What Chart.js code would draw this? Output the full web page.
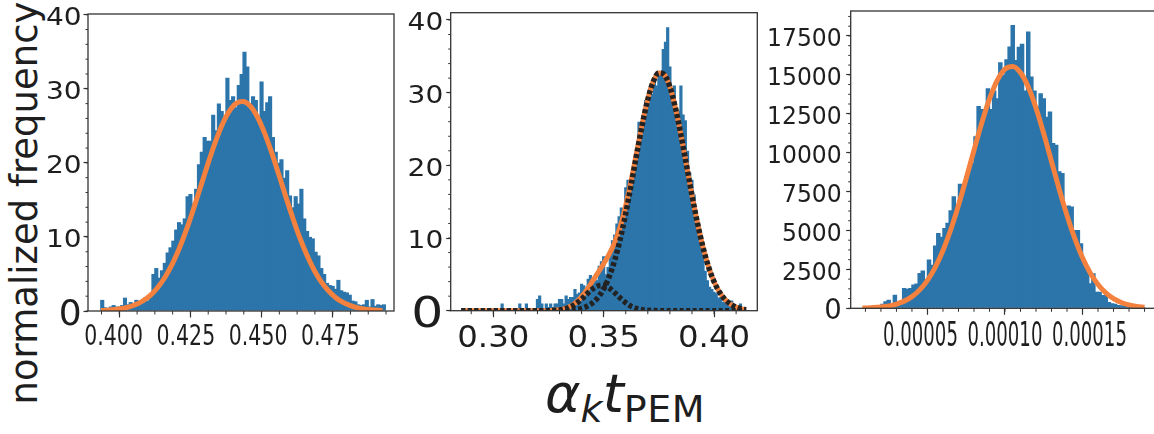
<!DOCTYPE html>
<html>
<head>
<meta charset="utf-8">
<script src="https://cdn.jsdelivr.net/npm/chart.js@4.4.1/dist/chart.umd.min.js"></script>
<style>
  html, body { margin: 0; padding: 0; background: #fff; }
  body { position: relative; width: 1154px; height: 434px; overflow: hidden; font-family: "DejaVu Sans", sans-serif; color: #1e1e1e; }
  canvas { position: absolute; top: 0; }
  #ylabel { position: absolute; left: 24px; top: 203px; font-size: 37px; line-height: 37px; white-space: nowrap;
            transform: translate(-50%, -50%) rotate(-90deg); }
  #xlabel { position: absolute; left: 545px; top: 367px; font-size: 54px; line-height: 54px; white-space: nowrap; }
  #xlabel .sub { font-size: 38px; line-height: 38px; position: relative; top: 10px; }
  #xlabel .pem { letter-spacing: 0.5px; }
</style>
</head>
<body>
<div id="ylabel">normalized frequency</div>
<div id="xlabel"><i>α</i><span class="sub"><i>k</i></span><i>t</i><span class="sub pem">PEM</span></div>
<canvas id="panel1" width="356" height="434" style="left:44px"></canvas>
<canvas id="panel2" width="360" height="434" style="left:400px"></canvas>
<canvas id="panel3" width="400" height="434" style="left:760px"></canvas>
<script>
// ---- panel 1 : single gaussian ----
const p1BinStart = 0.394;
const p1BinWidth = 0.001;
const p1Counts = [
  1.5, 0.5, 0.3, 0.6, 0.8, 0.6, 0.6, 0.8, 1.8, 0.9,
  1.2, 0.9, 1.5, 1.0, 1.2, 1.8, 1.4, 2.2, 5.0, 5.8,
  4.5, 5.5, 6.5, 7.9, 8.6, 9.5, 11.0, 12.0, 11.7, 12.5,
  15.5, 15.8, 14.5, 16.5, 19.8, 21.5, 23.5, 23.0, 23.0, 26.5,
  24.4, 28.0, 27.0, 26.2, 31.5, 28.5, 29.0, 27.5, 30.5, 32.0,
  35.0, 33.0, 28.0, 29.0, 28.5, 26.0, 31.0, 27.0, 28.2, 29.0,
  23.5, 21.5, 20.0, 20.5, 18.0, 19.0, 15.6, 14.0, 15.5, 14.5,
  16.5, 12.5, 10.8, 10.0, 9.8, 8.0, 7.5, 5.8, 5.0, 3.8,
  3.5, 3.4, 3.0, 4.2, 2.8, 2.6, 2.5, 2.2, 1.4, 1.3,
  0.9, 0.8, 0.9, 1.5, 0.6, 1.6, 0.7, 0.9, 0.8, 0.9
];
const p1FitX = [
  0.3935, 0.396, 0.3985, 0.401, 0.4035, 0.406, 0.4085, 0.411, 0.4135, 0.416,
  0.4185, 0.421, 0.4235, 0.426, 0.4285, 0.431, 0.4335, 0.436, 0.4385, 0.441,
  0.4435, 0.446, 0.4485, 0.451, 0.4535, 0.456, 0.4585, 0.461, 0.4635, 0.466,
  0.4685, 0.471, 0.4735, 0.476, 0.4785, 0.481, 0.4835, 0.486, 0.4885, 0.491, 0.4925
];
const p1FitY = [
  0.06, 0.11, 0.19, 0.33, 0.56, 0.90, 1.42, 2.15, 3.17, 4.52,
  6.25, 8.38, 10.88, 13.68, 16.68, 19.70, 22.55, 25.02, 26.89, 28.02,
  28.28, 27.67, 26.23, 24.09, 21.45, 18.50, 15.47, 12.53, 9.83, 7.48,
  5.51, 3.94, 2.73, 1.83, 1.19, 0.75, 0.46, 0.27, 0.16, 0.09, 0.06
];
const p1XTicks = [0.400, 0.425, 0.450, 0.475];
const p1YTicks = [0, 10, 20, 30, 40];

// ---- panel 2 : two-component mixture ----
const p2BinStart = 0.286;
const p2BinWidth = 0.001;
const p2Counts = [
  0, 0, 0, 0, 0, 0, 0, 0, 0, 0, 0, 0, 0, 0, 0, 0, 0, 0,
  1.0, 0, 0, 0, 0, 0, 0, 0, 1.0, 0, 0, 1.0, 0, 0, 0, 0,
  1.6, 2.1, 1.0, 0, 1.0, 0.5, 1.0, 0.5, 1.0, 1.0,
  1.6, 1.6, 1.0, 2.1, 1.6, 1.9, 1.9, 3.0, 2.3, 2.5,
  3.7, 3.5, 3.0, 4.4, 4.9, 4.4, 4.6, 4.2, 6.2, 6.8,
  7.5, 5.0, 6.0, 7.8, 9.7, 10.5, 12.0, 13.0, 14.2, 14.0,
  17.0, 18.0, 17.5, 19.0, 21.0, 22.0, 26.0, 25.2, 27.0, 29.0,
  28.0, 30.7, 29.8, 32.1, 31.0, 32.6, 33.0, 36.0, 37.0, 39.0,
  33.6, 30.7, 31.0, 28.0, 27.5, 31.0, 27.0, 26.2, 22.0, 19.0,
  18.0, 16.0, 13.3, 11.0, 9.1, 7.8, 5.5, 4.2, 3.3, 3.0,
  2.6, 2.4, 1.8, 1.8, 1.2, 1.6, 1.1, 0.8, 1.4, 0.8,
  0.4, 0.3, 1.0, 0.3, 0.2
];
const p2FitX = [
  0.2855, 0.295, 0.305, 0.315, 0.32, 0.325, 0.33, 0.3325, 0.335, 0.3375,
  0.34, 0.3425, 0.345, 0.3475, 0.35, 0.3525, 0.355, 0.3575, 0.36, 0.3625,
  0.365, 0.3675, 0.37, 0.3725, 0.375, 0.3775, 0.38, 0.3825, 0.385, 0.3875,
  0.39, 0.3925, 0.395, 0.3975, 0.40, 0.4025, 0.405, 0.4075, 0.41, 0.4125, 0.4145
];
const p2MixY = [
  0, 0, 0, 0, 0, 0.01, 0.13, 0.29, 0.61, 1.15,
  1.93, 2.94, 4.09, 5.27, 6.47, 7.78, 9.40, 11.59, 14.48, 17.98,
  21.87, 25.75, 29.11, 31.56, 32.72, 32.46, 30.79, 27.91, 24.20, 20.05,
  15.90, 12.05, 8.73, 6.05, 4.00, 2.54, 1.54, 0.89, 0.49, 0.26, 0.15
];
const p2MainY = [
  0, 0, 0, 0, 0, 0, 0.02, 0.04, 0.08, 0.17,
  0.33, 0.61, 1.09, 1.85, 3.00, 4.67, 6.93, 9.85, 13.39, 17.38,
  21.57, 25.62, 29.06, 31.54, 32.72, 32.46, 30.79, 27.91, 24.20, 20.05,
  15.90, 12.05, 8.73, 6.05, 4.00, 2.54, 1.54, 0.89, 0.49, 0.26, 0.15
];
const p2SideY = [
  0, 0, 0, 0, 0, 0.01, 0.11, 0.25, 0.53, 0.98,
  1.60, 2.33, 3.00, 3.42, 3.47, 3.11, 2.47, 1.74, 1.09, 0.60,
  0.30, 0.13, 0.05, 0.02, 0, 0, 0, 0, 0, 0,
  0, 0, 0, 0, 0, 0, 0, 0, 0, 0, 0
];
const p2XTicks = [0.30, 0.35, 0.40];
const p2YTicks = [0, 10, 20, 30, 40];

// ---- panel 3 : single gaussian, small values ----
const p3BinStart = 0.000009;
const p3BinWidth = 0.000002;
const p3Counts = [
  30, 40, 60, 80, 100, 200, 300, 450, 557, 343,
  878, 450, 500, 1307, 1250, 1300, 1521, 1600, 2271, 2421,
  1843, 3128, 2800, 4028, 4842, 4600, 5163, 5500, 6300, 7199,
  5913, 8000, 7413, 8484, 8900, 9341, 11055, 13000, 12800, 12500,
  14139, 12800, 14000, 13500, 15800, 15000, 16000, 16815, 18208, 15957,
  16800, 17000, 14000, 17780, 14889, 14000, 12962, 13818, 13500, 12300,
  12641, 10626, 10500, 8804, 8698, 6534, 6600, 6534, 5035, 5035,
  4177, 2892, 2464, 1607, 2250, 1071, 1071, 857, 857, 400,
  321, 300, 214, 200, 150, 150, 150, 120, 100, 100, 80
];
const p3FitX = [
  0.8e-5, 1.0e-5, 1.5e-5, 2.0e-5, 2.5e-5, 3.0e-5, 3.5e-5, 4.0e-5, 4.5e-5, 5.0e-5,
  5.5e-5, 6.0e-5, 6.5e-5, 7.0e-5, 7.5e-5, 8.0e-5, 8.5e-5, 9.0e-5, 9.5e-5, 10.0e-5,
  10.5e-5, 11.0e-5, 11.5e-5, 12.0e-5, 12.5e-5, 13.0e-5, 13.5e-5, 14.0e-5, 14.5e-5, 15.0e-5,
  15.5e-5, 16.0e-5, 16.5e-5, 17.0e-5, 17.5e-5, 18.0e-5, 18.5e-5, 19.0e-5
];
const p3FitY = [
  17, 23, 44, 84, 154, 271, 461, 751, 1185, 1799,
  2633, 3715, 5049, 6614, 8349, 10156, 11906, 13452, 14647, 15368,
  15539, 15141, 14219, 12872, 11224, 9431, 7640, 5960, 4486, 3250,
  2270, 1528, 992, 620, 373, 217, 121, 65
];
const p3XTicks = [0.00005, 0.00010, 0.00015];
const p3YTicks = [0, 2500, 5000, 7500, 10000, 12500, 15000, 17500];

const BLUE = "#2c75aa";
const ORANGE = "#f5813e";
const DOTS = "#232323";
const INK = "#1e1e1e";
const H = 434;

function histPoints(start, width, counts) {
  return counts.map((c, i) => ({ x: start + i * width, y: c }));
}

function curvePoints(xs, ys) {
  return xs.map((x, i) => ({ x: x, y: ys[i] }));
}

function barSet(points) {
  return {
    type: "bar",
    data: points,
    backgroundColor: BLUE,
    borderWidth: 0,
    barPercentage: 1.45,
    categoryPercentage: 1,
    order: 3
  };
}

function curveSet(points, color, dotted) {
  return {
    type: "line",
    data: points,
    borderColor: color,
    borderWidth: dotted ? 5.5 : 5,
    borderDash: dotted ? [4, 2.5] : [],
    pointRadius: 0,
    fill: false,
    cubicInterpolationMode: "monotone",
    clip: 0,
    order: dotted ? 1 : 2
  };
}

// frame, minor ticks and squeezed tick labels
const axisText = {
  id: "axisText",
  afterDraw(chart, args, o) {
    const { ctx, chartArea: a } = chart;
    const xs = chart.scales.x;
    const ys = chart.scales.y;
    ctx.save();
    ctx.strokeStyle = "#333";
    ctx.lineWidth = 1.3;
    ctx.strokeRect(a.left, a.top, a.right - a.left, a.bottom - a.top);

    ctx.lineWidth = 1;
    ctx.beginPath();
    for (let k = Math.ceil(xs.min / o.xMinor - 1e-6); k * o.xMinor <= xs.max; k++) {
      const px = xs.getPixelForValue(k * o.xMinor);
      ctx.moveTo(px, a.bottom);
      ctx.lineTo(px, a.bottom + 3.5);
    }
    for (let k = 0; k * o.yMinor <= ys.max; k++) {
      const py = ys.getPixelForValue(k * o.yMinor);
      ctx.moveTo(a.left, py);
      ctx.lineTo(a.left - 2.5, py);
    }
    ctx.stroke();

    ctx.fillStyle = INK;
    ctx.textBaseline = "alphabetic";
    ctx.textAlign = "center";
    xs.ticks.forEach(t => {
      const px = xs.getPixelForValue(t.value);
      ctx.save();
      ctx.translate(px + o.xShift + (px - o.xPivot) * o.xSpread, o.xBase);
      ctx.scale(o.xScale, 1);
      ctx.font = o.xSize + 'px "DejaVu Sans"';
      ctx.fillText(t.value.toFixed(o.xDec), 0, 0);
      ctx.restore();
    });

    ctx.textAlign = "right";
    ys.ticks.forEach(t => {
      const zero = t.value === 0;
      const size = zero ? o.zeroSize : o.ySize;
      ctx.save();
      ctx.translate(a.left - o.yGap, ys.getPixelForValue(t.value) + size * 0.364 + 1);
      ctx.scale(zero ? o.zeroScale : o.yScale, 1);
      ctx.font = size + 'px "DejaVu Sans"';
      ctx.fillText(String(t.value), 0, 0);
      ctx.restore();
    });
    ctx.restore();
  }
};

function makePanel(p) {
  return new Chart(document.getElementById(p.id), {
    type: "bar",
    data: { datasets: p.datasets },
    options: {
      responsive: false,
      animation: false,
      events: [],
      layout: { padding: { top: p.top, right: p.right, left: 0, bottom: 0 } },
      plugins: {
        legend: { display: false },
        tooltip: { enabled: false },
        axisText: p.text
      },
      scales: {
        x: {
          type: "linear",
          min: p.xMin,
          max: p.xMax,
          offset: false,
          grid: { drawOnChartArea: false, offset: false, tickLength: 6.5, tickColor: "#333", tickWidth: 1.2 },
          border: { display: false },
          ticks: { display: false },
          afterBuildTicks: s => { s.ticks = p.xTicks.map(v => ({ value: v })); },
          afterFit: s => { s.height = H - p.bottom; }
        },
        y: {
          type: "linear",
          min: 0,
          max: p.yMax,
          grid: { drawOnChartArea: false, tickLength: 4.5, tickColor: "#333", tickWidth: 1.2 },
          border: { display: false },
          ticks: { display: false },
          afterBuildTicks: s => { s.ticks = p.yTicks.map(v => ({ value: v })); },
          afterFit: s => { s.width = p.left; }
        }
      }
    },
    plugins: [axisText]
  });
}

makePanel({
  id: "panel1", left: 44, right: 6, top: 14, bottom: 311,
  xMin: 0.3890, xMax: 0.49655, yMax: 40.1, xTicks: p1XTicks, yTicks: p1YTicks,
  text: { xMinor: 0.00625, yMinor: 2, xDec: 3, xSize: 28.5, xScale: 0.72, xShift: -4, xPivot: 182, xSpread: 0.016, xBase: 345,
          ySize: 25.5, yScale: 1.1, yGap: 6.3, zeroSize: 36, zeroScale: 1 },
  datasets: [
    barSet(histPoints(p1BinStart, p1BinWidth, p1Counts)),
    curveSet(curvePoints(p1FitX, p1FitY), ORANGE, false)
  ]
});

makePanel({
  id: "panel2", left: 50.7, right: 2.7, top: 12.7, bottom: 310.7,
  xMin: 0.2807, xMax: 0.4196, yMax: 41, xTicks: p2XTicks, yTicks: p2YTicks,
  text: { xMinor: 0.01, yMinor: 2, xDec: 2, xSize: 30, xScale: 1.08, xShift: 0, xPivot: 0, xSpread: 0, xBase: 346.5,
          ySize: 25.5, yScale: 1.1, yGap: 7.4, zeroSize: 42, zeroScale: 1.2 },
  datasets: [
    barSet(histPoints(p2BinStart, p2BinWidth, p2Counts)),
    curveSet(curvePoints(p2FitX, p2MixY), ORANGE, false),
    curveSet(curvePoints(p2FitX, p2MainY), DOTS, true),
    curveSet(curvePoints(p2FitX, p2SideY), DOTS, true)
  ]
});

makePanel({
  id: "panel3", left: 90.7, right: 1.5, top: 11, bottom: 308.3,
  xMin: 0.0000005, xMax: 0.000199, yMax: 19100, xTicks: p3XTicks, yTicks: p3YTicks,
  text: { xMinor: 0.00001, yMinor: 625, xDec: 5, xSize: 33, xScale: 0.55, xShift: 0, xPivot: 245.7, xSpread: 0.09, xBase: 345.5,
          ySize: 25.5, yScale: 0.92, yGap: 9, zeroSize: 27.5, zeroScale: 1 },
  datasets: [
    barSet(histPoints(p3BinStart, p3BinWidth, p3Counts)),
    curveSet(curvePoints(p3FitX, p3FitY), ORANGE, false)
  ]
});
</script>
</body>
</html>
